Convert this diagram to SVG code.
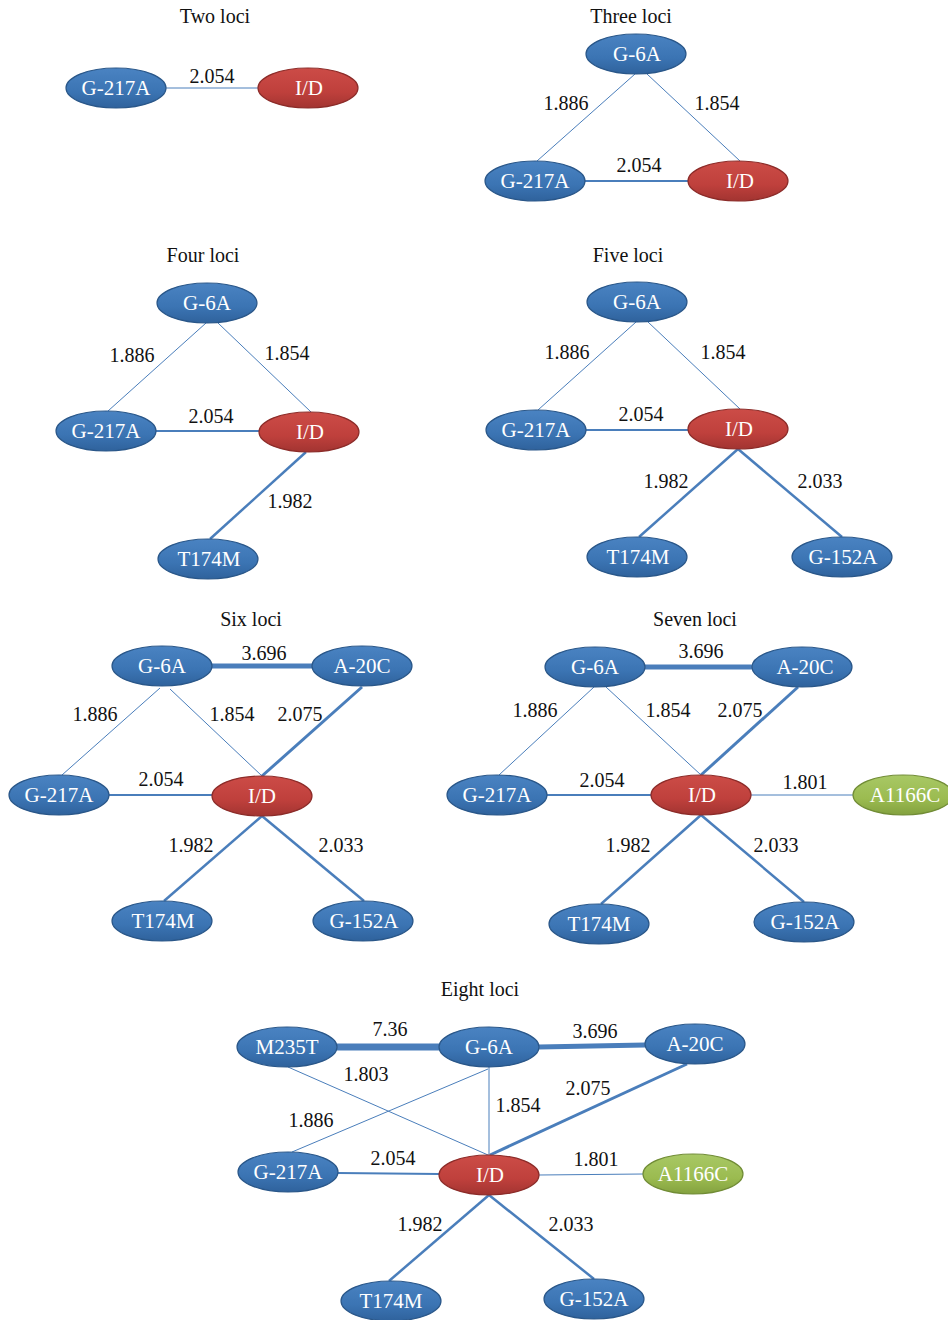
<svg xmlns="http://www.w3.org/2000/svg" width="948" height="1320" viewBox="0 0 948 1320">
<defs>
<linearGradient id="gb" x1="0" y1="0" x2="0" y2="1"><stop offset="0" stop-color="#4A83C2"/><stop offset="0.6" stop-color="#3B74B3"/><stop offset="1" stop-color="#2F629C"/></linearGradient>
<linearGradient id="gr" x1="0" y1="0" x2="0" y2="1"><stop offset="0" stop-color="#CC4C47"/><stop offset="0.6" stop-color="#BF403C"/><stop offset="1" stop-color="#A23431"/></linearGradient>
<linearGradient id="gg" x1="0" y1="0" x2="0" y2="1"><stop offset="0" stop-color="#A8C865"/><stop offset="0.6" stop-color="#9BBB50"/><stop offset="1" stop-color="#83A13F"/></linearGradient>
</defs>
<style>
.t{font-family:"Liberation Serif","Times New Roman",serif;font-size:20px;fill:#111;text-anchor:middle}
.l{font-family:"Liberation Serif","Times New Roman",serif;font-size:20px;fill:#111;text-anchor:middle}
.n{font-family:"Liberation Serif","Times New Roman",serif;font-size:21px;fill:#fff;text-anchor:middle}
.b{fill:url(#gb);stroke:#2A5789;stroke-width:1.2}
.r{fill:url(#gr);stroke:#8C2C29;stroke-width:1.2}
.g{fill:url(#gg);stroke:#718C36;stroke-width:1.2}
.e{stroke:#4A7EBB;fill:none}
.w1{stroke-width:1}
.w2{stroke-width:2}
.w25{stroke-width:2.5}
.w3{stroke-width:3}
.w5{stroke-width:5}
.w7{stroke-width:7}
</style>
<g id="titles">
<text class="t" x="215" y="23">Two loci</text>
<text class="t" x="631" y="23">Three loci</text>
<text class="t" x="203" y="262">Four loci</text>
<text class="t" x="628" y="262">Five loci</text>
<text class="t" x="251" y="626">Six loci</text>
<text class="t" x="695" y="626">Seven loci</text>
<text class="t" x="480" y="996">Eight loci</text>
</g>
<g id="connectors">
<line class="e w1" x1="166" y1="88" x2="258" y2="88"/>
<line class="e w1" x1="635" y1="74" x2="537" y2="161"/>
<line class="e w1" x1="647" y1="74" x2="740" y2="161"/>
<line class="e w2" x1="585" y1="181" x2="688" y2="181"/>
<line class="e w1" x1="206" y1="323" x2="108" y2="411"/>
<line class="e w1" x1="218" y1="323" x2="311" y2="412"/>
<line class="e w2" x1="156" y1="431" x2="259" y2="431"/>
<line class="e w25" x1="306" y1="452" x2="210" y2="539"/>
<line class="e w1" x1="636" y1="322" x2="538" y2="410"/>
<line class="e w1" x1="648" y1="322" x2="740" y2="409"/>
<line class="e w2" x1="586" y1="430" x2="688" y2="430"/>
<line class="e w25" x1="738" y1="449" x2="639" y2="537"/>
<line class="e w25" x1="738" y1="449" x2="842" y2="537"/>
<line class="e w5" x1="212" y1="666" x2="312" y2="666"/>
<line class="e w1" x1="160" y1="688" x2="62" y2="775"/>
<line class="e w1" x1="170" y1="689" x2="262" y2="776"/>
<line class="e w3" x1="362" y1="687" x2="262" y2="776"/>
<line class="e w2" x1="109" y1="795" x2="212" y2="795"/>
<line class="e w25" x1="262" y1="816" x2="164" y2="901"/>
<line class="e w25" x1="262" y1="816" x2="364" y2="901"/>
<line class="e w5" x1="645" y1="667" x2="752" y2="667"/>
<line class="e w1" x1="594" y1="687" x2="499" y2="775"/>
<line class="e w1" x1="606" y1="687" x2="701" y2="775"/>
<line class="e w3" x1="798" y1="687" x2="701" y2="775"/>
<line class="e w2" x1="547" y1="795" x2="651" y2="795"/>
<line class="e w1" x1="751" y1="795" x2="853" y2="795"/>
<line class="e w25" x1="701" y1="815" x2="601" y2="904"/>
<line class="e w25" x1="701" y1="815" x2="804" y2="902"/>
<line class="e w7" x1="337" y1="1047" x2="439" y2="1047"/>
<line class="e w5" x1="539" y1="1047" x2="645" y2="1045"/>
<line class="e w1" x1="288" y1="1067" x2="488" y2="1155"/>
<line class="e w1" x1="488" y1="1069" x2="292" y2="1152"/>
<line class="e w1" x1="489" y1="1067" x2="489" y2="1155"/>
<line class="e w3" x1="687" y1="1064" x2="490" y2="1155"/>
<line class="e w2" x1="338" y1="1173" x2="439" y2="1174"/>
<line class="e w1" x1="539" y1="1175" x2="643" y2="1174"/>
<line class="e w25" x1="489" y1="1195" x2="389" y2="1281"/>
<line class="e w25" x1="489" y1="1195" x2="594" y2="1279"/>
</g>
<g id="labels">
<text class="l" x="212" y="83">2.054</text>
<text class="l" x="566" y="110">1.886</text>
<text class="l" x="717" y="110">1.854</text>
<text class="l" x="639" y="172">2.054</text>
<text class="l" x="132" y="362">1.886</text>
<text class="l" x="287" y="360">1.854</text>
<text class="l" x="211" y="423">2.054</text>
<text class="l" x="290" y="508">1.982</text>
<text class="l" x="567" y="359">1.886</text>
<text class="l" x="723" y="359">1.854</text>
<text class="l" x="641" y="421">2.054</text>
<text class="l" x="666" y="488">1.982</text>
<text class="l" x="820" y="488">2.033</text>
<text class="l" x="264" y="660">3.696</text>
<text class="l" x="95" y="721">1.886</text>
<text class="l" x="232" y="721">1.854</text>
<text class="l" x="300" y="721">2.075</text>
<text class="l" x="161" y="786">2.054</text>
<text class="l" x="191" y="852">1.982</text>
<text class="l" x="341" y="852">2.033</text>
<text class="l" x="701" y="658">3.696</text>
<text class="l" x="535" y="717">1.886</text>
<text class="l" x="668" y="717">1.854</text>
<text class="l" x="740" y="717">2.075</text>
<text class="l" x="602" y="787">2.054</text>
<text class="l" x="805" y="789">1.801</text>
<text class="l" x="628" y="852">1.982</text>
<text class="l" x="776" y="852">2.033</text>
<text class="l" x="390" y="1036">7.36</text>
<text class="l" x="595" y="1038">3.696</text>
<text class="l" x="366" y="1081">1.803</text>
<text class="l" x="311" y="1127">1.886</text>
<text class="l" x="518" y="1112">1.854</text>
<text class="l" x="588" y="1095">2.075</text>
<text class="l" x="393" y="1165">2.054</text>
<text class="l" x="596" y="1166">1.801</text>
<text class="l" x="420" y="1231">1.982</text>
<text class="l" x="571" y="1231">2.033</text>
</g>
<g id="n2-g217a"><ellipse class="b" cx="116" cy="88" rx="50" ry="20"/><text class="n" x="116" y="95">G-217A</text></g>
<g id="n2-id"><ellipse class="r" cx="308" cy="88" rx="50" ry="20"/><text class="n" x="309" y="95">I/D</text></g>
<g id="n3-g6a"><ellipse class="b" cx="636" cy="54" rx="50" ry="20"/><text class="n" x="637" y="61">G-6A</text></g>
<g id="n3-g217a"><ellipse class="b" cx="535" cy="181" rx="50" ry="20"/><text class="n" x="535" y="188">G-217A</text></g>
<g id="n3-id"><ellipse class="r" cx="738" cy="181" rx="50" ry="20"/><text class="n" x="740" y="188">I/D</text></g>
<g id="n4-g6a"><ellipse class="b" cx="207" cy="303" rx="50" ry="20"/><text class="n" x="207" y="310">G-6A</text></g>
<g id="n4-g217a"><ellipse class="b" cx="106" cy="431" rx="50" ry="20"/><text class="n" x="106" y="438">G-217A</text></g>
<g id="n4-id"><ellipse class="r" cx="309" cy="432" rx="50" ry="20"/><text class="n" x="310" y="439">I/D</text></g>
<g id="n4-t174m"><ellipse class="b" cx="208" cy="559" rx="50" ry="20"/><text class="n" x="209" y="566">T174M</text></g>
<g id="n5-g6a"><ellipse class="b" cx="637" cy="302" rx="50" ry="20"/><text class="n" x="637" y="309">G-6A</text></g>
<g id="n5-g217a"><ellipse class="b" cx="536" cy="430" rx="50" ry="20"/><text class="n" x="536" y="437">G-217A</text></g>
<g id="n5-id"><ellipse class="r" cx="738" cy="429" rx="50" ry="20"/><text class="n" x="739" y="436">I/D</text></g>
<g id="n5-t174m"><ellipse class="b" cx="637" cy="557" rx="50" ry="20"/><text class="n" x="638" y="564">T174M</text></g>
<g id="n5-g152a"><ellipse class="b" cx="842" cy="557" rx="50" ry="20"/><text class="n" x="843" y="564">G-152A</text></g>
<g id="n6-g6a"><ellipse class="b" cx="162" cy="666" rx="50" ry="20"/><text class="n" x="162" y="673">G-6A</text></g>
<g id="n6-a20c"><ellipse class="b" cx="362" cy="666" rx="50" ry="20"/><text class="n" x="362" y="673">A-20C</text></g>
<g id="n6-g217a"><ellipse class="b" cx="59" cy="795" rx="50" ry="20"/><text class="n" x="59" y="802">G-217A</text></g>
<g id="n6-id"><ellipse class="r" cx="262" cy="796" rx="50" ry="20"/><text class="n" x="262" y="803">I/D</text></g>
<g id="n6-t174m"><ellipse class="b" cx="162" cy="921" rx="50" ry="20"/><text class="n" x="163" y="928">T174M</text></g>
<g id="n6-g152a"><ellipse class="b" cx="363" cy="921" rx="50" ry="20"/><text class="n" x="364" y="928">G-152A</text></g>
<g id="n7-g6a"><ellipse class="b" cx="595" cy="667" rx="50" ry="20"/><text class="n" x="595" y="674">G-6A</text></g>
<g id="n7-a20c"><ellipse class="b" cx="802" cy="667" rx="50" ry="20"/><text class="n" x="805" y="674">A-20C</text></g>
<g id="n7-g217a"><ellipse class="b" cx="497" cy="795" rx="50" ry="20"/><text class="n" x="497" y="802">G-217A</text></g>
<g id="n7-id"><ellipse class="r" cx="701" cy="795" rx="50" ry="20"/><text class="n" x="702" y="802">I/D</text></g>
<g id="n7-a1166c"><ellipse class="g" cx="903" cy="795" rx="50" ry="20"/><text class="n" x="905" y="802">A1166C</text></g>
<g id="n7-t174m"><ellipse class="b" cx="599" cy="924" rx="50" ry="20"/><text class="n" x="599" y="931">T174M</text></g>
<g id="n7-g152a"><ellipse class="b" cx="804" cy="922" rx="50" ry="20"/><text class="n" x="805" y="929">G-152A</text></g>
<g id="n8-m235t"><ellipse class="b" cx="287" cy="1047" rx="50" ry="20"/><text class="n" x="287" y="1054">M235T</text></g>
<g id="n8-g6a"><ellipse class="b" cx="489" cy="1047" rx="50" ry="20"/><text class="n" x="489" y="1054">G-6A</text></g>
<g id="n8-a20c"><ellipse class="b" cx="695" cy="1044" rx="50" ry="20"/><text class="n" x="695" y="1051">A-20C</text></g>
<g id="n8-g217a"><ellipse class="b" cx="288" cy="1172" rx="50" ry="20"/><text class="n" x="288" y="1179">G-217A</text></g>
<g id="n8-id"><ellipse class="r" cx="489" cy="1175" rx="50" ry="20"/><text class="n" x="490" y="1182">I/D</text></g>
<g id="n8-a1166c"><ellipse class="g" cx="693" cy="1174" rx="50" ry="20"/><text class="n" x="693" y="1181">A1166C</text></g>
<g id="n8-t174m"><ellipse class="b" cx="391" cy="1301" rx="50" ry="20"/><text class="n" x="391" y="1308">T174M</text></g>
<g id="n8-g152a"><ellipse class="b" cx="594" cy="1299" rx="50" ry="20"/><text class="n" x="594" y="1306">G-152A</text></g>
</svg>
